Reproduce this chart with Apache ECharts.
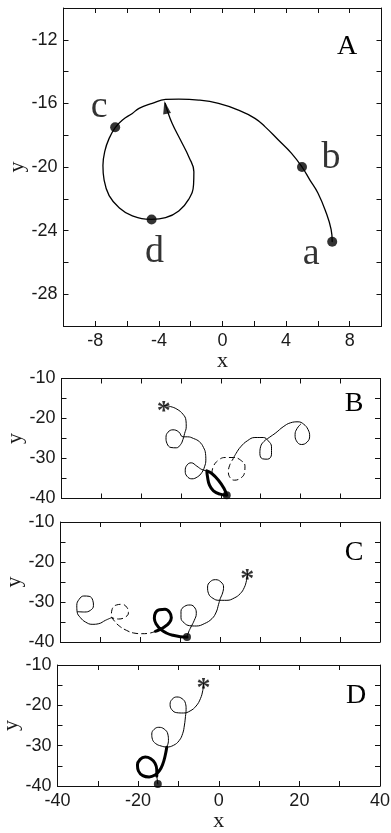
<!DOCTYPE html>
<html>
<head>
<meta charset="utf-8">
<script src="https://cdn.jsdelivr.net/npm/echarts@6/dist/echarts.min.js"></script>
<style>
html, body { margin: 0; padding: 0; background: #fff; }
#main { width: 391px; height: 833px; }
</style>
</head>
<body>
<div id="main"></div>
<script>
// ---- panel A : single trajectory, points a-d ----
var aPath = [[6.90,-24.69],[6.83,-23.92],[6.52,-22.88],[6.0,-21.63],[5.48,-20.79],[5.0,-20.0],[4.33,-19.13],[3.5,-18.29],[2.67,-17.46],[2.04,-16.94],[1.0,-16.42],[-0.25,-16.0],[-1.5,-15.79],[-2.75,-15.73],[-3.58,-15.75],[-4.42,-16.0],[-5.25,-16.31],[-5.67,-16.63],[-6.29,-17.04],[-6.75,-17.52],[-7.13,-18.2],[-7.4,-19.0],[-7.52,-19.9],[-7.45,-20.8],[-7.13,-21.8],[-6.5,-22.56],[-5.67,-23.08],[-4.46,-23.29],[-3.58,-23.19],[-2.75,-22.77],[-2.13,-22.04],[-1.82,-21.1],[-1.8,-20.3],[-2.1,-19.4],[-2.65,-18.29],[-3.17,-17.25],[-3.48,-16.42],[-3.6,-16.0]];
var aPoints = [[6.9,-24.7],[5.0,-20.0],[-6.75,-17.5],[-4.46,-23.3]];
var aNames = ['a','b','c','d'];
var aArrow = [[-3.57,-16.25]];
var aTicksX = [-8,-4,0,4,8];
var aTicksY = [-28,-24,-20,-16,-12];

// ---- panel B ----
var bThick = [[1.5,-39.17],[0.83,-37.5],[-0.58,-35.42],[-2.25,-33.75],[-3.5,-33.08],[-3.33,-34.58],[-2.83,-36.67],[-1.83,-38.08],[-0.17,-38.92],[1.5,-39.17]];
var bThinLeft = [[-3.5,-33.08],[-4.75,-32.75],[-6.0,-31.92],[-7.42,-31.08],[-8.5,-31.67],[-8.92,-33.08],[-8.5,-34.42],[-7.25,-35.08],[-5.83,-34.58],[-4.75,-33.5],[-4.08,-32.08],[-3.75,-30.42],[-3.83,-28.75],[-4.33,-27.25],[-5.33,-25.83],[-6.83,-25.0],[-8.33,-24.58],[-9.5,-24.58],[-10.58,-23.33],[-12.0,-22.83],[-13.25,-23.42],[-13.75,-24.75],[-13.5,-26.25],[-12.5,-27.25],[-11.17,-27.33],[-10.08,-26.5],[-9.5,-25.25],[-9.08,-23.75],[-8.67,-22.08],[-8.75,-20.42],[-9.5,-18.92],[-11.0,-17.67],[-12.67,-17.0],[-14.17,-16.75]];
var bDashed = [[-2.25,-33.75],[-1.83,-31.92],[-0.58,-30.42],[1.08,-29.75],[3.17,-29.75],[5.0,-30.42],[6.08,-31.92],[5.92,-33.75],[4.83,-35.0],[3.42,-35.42],[2.33,-34.75],[1.92,-33.33],[2.25,-31.67],[3.0,-30.25]];
var bThinRight = [[3.0,-30.25],[3.83,-28.75],[5.0,-27.08],[6.67,-25.58],[8.58,-24.75],[10.67,-24.75],[11.92,-25.58],[12.75,-27.08],[12.75,-28.92],[11.75,-30.17],[10.5,-30.08],[9.83,-28.75],[10.0,-27.08],[10.83,-25.75],[12.17,-24.75],[13.83,-23.58],[15.67,-22.08],[17.5,-21.08],[19.42,-20.83],[20.83,-21.42],[21.92,-22.75],[22.33,-24.42],[21.67,-25.92],[20.25,-26.5],[19.0,-25.58],[18.67,-24.0],[19.17,-22.5],[20.08,-21.42]];
var bStart = [[1.5,-39.17]];
var bEnd = [[-14.33,-16.67]];

// ---- panel C ----
var cThick = [[-8.33,-38.75],[-10.0,-38.67],[-11.83,-38.33],[-13.5,-37.75],[-14.83,-36.92],[-16.0,-35.58],[-16.5,-34.08],[-16.25,-32.75],[-15.25,-31.92],[-13.83,-31.83],[-12.67,-32.58],[-12.25,-33.92],[-12.83,-35.25],[-14.0,-36.25],[-15.17,-36.92],[-16.25,-37.33]];
var cDashed = [[-16.25,-37.33],[-17.5,-37.75],[-19.58,-37.92],[-21.67,-37.75],[-23.5,-37.08],[-25.17,-36.08],[-26.5,-34.75],[-27.25,-33.33],[-27.08,-31.83],[-26.0,-30.75],[-24.58,-30.58],[-23.33,-31.42],[-23.0,-32.75],[-23.75,-33.75],[-25.42,-34.25],[-27.25,-33.92]];
var cThinLeft = [[-27.25,-33.92],[-28.75,-34.58],[-30.42,-35.42],[-32.08,-35.58],[-33.75,-35.0],[-35.0,-33.92],[-35.83,-32.5],[-35.92,-30.83],[-35.33,-29.33],[-34.17,-28.5],[-32.83,-28.58],[-31.92,-29.58],[-31.75,-30.92],[-32.5,-32.08],[-34.0,-32.5],[-35.67,-32.42]];
var cThinRight = [[-8.33,-38.75],[-7.92,-37.5],[-7.33,-36.25],[-6.5,-34.58],[-6.0,-32.92],[-6.33,-31.5],[-7.5,-30.75],[-8.92,-31.08],[-9.83,-32.33],[-9.83,-33.92],[-9.0,-35.25],[-7.67,-35.92],[-6.0,-36.0],[-4.0,-35.42],[-2.08,-34.17],[-1.0,-32.5],[-0.42,-30.58],[0.0,-29.17],[0.58,-27.75],[0.83,-26.25],[0.17,-25.0],[-1.17,-24.42],[-2.5,-24.92],[-3.17,-26.25],[-2.92,-27.92],[-1.83,-29.08],[-0.33,-29.58],[1.67,-29.58],[3.5,-29.0],[5.0,-27.92],[6.0,-26.42],[6.58,-24.58],[6.83,-22.92]];
var cStart = [[-8.33,-38.75]];
var cEnd = [[6.75,-22.6]];

// ---- panel D ----
var dStem = [[-15.12,-39.5],[-15.37,-37.52]];
var dThick = [[-15.37,-37.52],[-15.37,-36.03],[-15.79,-34.38],[-16.86,-33.22],[-18.26,-32.81],[-19.5,-33.39],[-20.17,-34.79],[-19.92,-36.28],[-18.84,-37.44],[-17.27,-37.77],[-15.79,-37.27],[-14.71,-36.2],[-13.88,-34.55],[-13.31,-32.56],[-12.89,-30.41]];
var dThin = [[-12.89,-30.41],[-12.48,-28.76],[-12.64,-27.11],[-13.55,-25.87],[-14.88,-25.45],[-16.03,-25.95],[-16.61,-27.11],[-16.45,-28.43],[-15.62,-29.5],[-14.3,-30.08],[-12.89,-30.33],[-11.24,-29.92],[-9.83,-28.76],[-8.93,-26.94],[-8.51,-24.88],[-8.26,-22.81],[-8.1,-20.99],[-8.26,-19.5],[-9.09,-18.35],[-10.41,-17.93],[-11.57,-18.51],[-12.07,-19.75],[-11.65,-21.07],[-10.41,-21.82],[-8.76,-21.9],[-7.11,-21.4],[-5.62,-20.17],[-4.55,-18.35],[-3.97,-16.36],[-3.72,-14.55]];
var dStart = [[-15.12,-39.5]];
var dEnd = [[-3.8,-14.2]];

var bcdTicksX = [-40,-20,0,20,40];
var bcdTicksY = [-40,-30,-20,-10];
var panelLetters = ['A','B','C','D'];

var INK = '#000';
var SANS = 'Liberation Sans';
var SERIF = 'Liberation Serif';

var grids = [
  { left: 63.5, top: 8, width: 318, height: 318 },
  { left: 61.5, top: 378.5, width: 318.5, height: 120 },
  { left: 60.5, top: 522, width: 319.5, height: 120 },
  { left: 57.5, top: 665, width: 322.5, height: 121 }
];
grids.forEach(function (g) { g.outerBoundsMode = 'none'; g.containLabel = false; });

function axisCommon(gi, min, max, step, labels, pos) {
  return {
    type: 'value', gridIndex: gi, position: pos,
    min: min, max: max, interval: step,
    axisLine: { show: true, onZero: false, lineStyle: { color: '#111', width: 1 } },
    axisTick: { show: true, inside: true, length: 5, lineStyle: { color: '#111', width: 1 } },
    axisLabel: {
      show: !!labels, margin: 6, color: '#1a1a1a', fontFamily: SANS, fontSize: 18,
      formatter: function (v) { return labels && labels.indexOf(Math.round(v)) >= 0 ? String(Math.round(v)) : ''; }
    },
    splitLine: { show: false }
  };
}

function addName(ax, text, gap) {
  ax.name = text;
  ax.nameLocation = 'middle';
  ax.nameGap = gap;
  ax.nameMoveOverlap = false;
  ax.nameTextStyle = { fontFamily: SERIF, fontSize: 22, color: '#1a1a1a' };
  return ax;
}

var xAxes = [], yAxes = [];
// A
xAxes.push(addName(axisCommon(0, -10, 10, 2, aTicksX, 'bottom'), 'x', 24));
xAxes.push(axisCommon(0, -10, 10, 2, null, 'top'));
yAxes.push(addName(axisCommon(0, -30, -10, 2, aTicksY, 'left'), 'y', 35));
yAxes.push(axisCommon(0, -30, -10, 2, null, 'right'));
// B, C, D
for (var gi = 1; gi <= 3; gi++) {
  var xb = axisCommon(gi, -40, 40, 10, gi === 3 ? bcdTicksX : null, 'bottom');
  if (gi === 3) addName(xb, 'x', 24);
  xAxes.push(xb);
  xAxes.push(axisCommon(gi, -40, 40, 10, null, 'top'));
  yAxes.push(addName(axisCommon(gi, -40, -10, 5, bcdTicksY, 'left'), 'y', 35));
  yAxes.push(axisCommon(gi, -40, -10, 5, null, 'right'));
}

function curve(gi, data, width, dashed) {
  return {
    type: 'line', xAxisIndex: gi * 2, yAxisIndex: gi * 2, data: data,
    smooth: 0.45, symbol: 'none', silent: true, animation: false,
    lineStyle: { color: INK, width: width, type: dashed ? [5, 4] : 'solid', cap: 'round', join: 'round' }
  };
}
function dots(gi, data, size) {
  return {
    type: 'scatter', xAxisIndex: gi * 2, yAxisIndex: gi * 2, data: data,
    symbol: 'circle', symbolSize: size, itemStyle: { color: INK }, animation: false, z: 5
  };
}
function star(gi, data) {
  return {
    type: 'scatter', xAxisIndex: gi * 2, yAxisIndex: gi * 2, data: data,
    symbol: 'circle', symbolSize: 1, itemStyle: { color: 'rgba(0,0,0,0)' }, animation: false, z: 6,
    label: { show: true, position: 'inside', formatter: '*', fontFamily: SERIF, fontSize: 28, fontWeight: 'bold', color: INK, textBorderWidth: 0, offset: [0, 7] }
  };
}

var letterOffsets = [[-21, 12], [29, -9], [-16, -20], [3, 33]];
var aLabeled = aPoints.map(function (p, i) {
  return { value: p, name: aNames[i], label: { offset: letterOffsets[i] } };
});

var series = [
  curve(0, aPath, 1.3, false),
  {
    type: 'scatter', xAxisIndex: 0, yAxisIndex: 0, data: aLabeled,
    symbol: 'circle', symbolSize: 10, itemStyle: { color: INK }, animation: false, z: 5,
    label: { show: true, position: 'inside', formatter: '{b}', fontFamily: SERIF, fontSize: 38, color: INK, textBorderWidth: 0 }
  },
  {
    type: 'scatter', xAxisIndex: 0, yAxisIndex: 0, data: aArrow,
    symbol: 'triangle', symbolSize: [8, 13], symbolRotate: 12, itemStyle: { color: INK }, animation: false, z: 5
  },
  curve(1, bThinLeft, 1, false),
  curve(1, bDashed, 1, true),
  curve(1, bThinRight, 1, false),
  curve(1, bThick, 3, false),
  dots(1, bStart, 8),
  star(1, bEnd),
  curve(2, cThinLeft, 1, false),
  curve(2, cDashed, 1, true),
  curve(2, cThinRight, 1, false),
  curve(2, cThick, 3, false),
  dots(2, cStart, 8),
  star(2, cEnd),
  curve(3, dStem, 1, false),
  curve(3, dThick, 3, false),
  curve(3, dThin, 1, false),
  dots(3, dStart, 8),
  star(3, dEnd)
];

var letterPos = [[347, 47], [354, 404], [354, 553], [356, 696]];
var graphics = panelLetters.map(function (t, i) {
  return {
    type: 'text', x: letterPos[i][0], y: letterPos[i][1],
    style: { text: t, fontFamily: SERIF, fontSize: 28, fill: INK, align: 'center', verticalAlign: 'middle' }
  };
});

var myChart = echarts.init(document.getElementById('main'), null, { renderer: 'canvas' });
myChart.setOption({
  backgroundColor: '#fff',
  animation: false,
  grid: grids,
  xAxis: xAxes,
  yAxis: yAxes,
  series: series,
  graphic: graphics
});
</script>
</body>
</html>
